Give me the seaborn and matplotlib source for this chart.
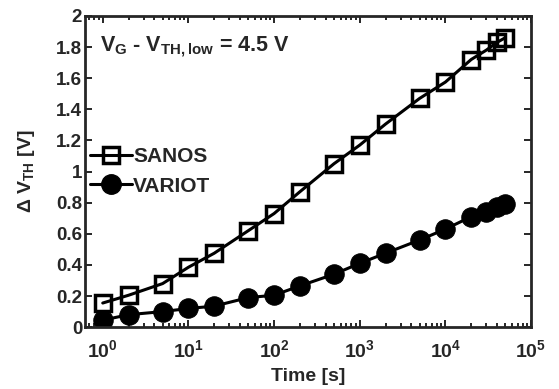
import numpy as np
import pandas as pd
import matplotlib
matplotlib.use("Agg")
import matplotlib.pyplot as plt
import seaborn as sns
from matplotlib.ticker import FixedLocator, FixedFormatter, LogLocator, NullFormatter
from matplotlib.lines import Line2D

time_s = [1, 2, 5, 10, 20, 50, 100, 200, 500, 1000, 2000, 5000, 10000, 20000, 30000, 40000, 50000]
sanos = [0.155, 0.205, 0.28, 0.385, 0.475, 0.62, 0.73, 0.87, 1.05, 1.17, 1.305, 1.47, 1.575, 1.72, 1.78, 1.83, 1.86]
variot = [0.045, 0.08, 0.10, 0.12, 0.135, 0.19, 0.205, 0.265, 0.34, 0.41, 0.475, 0.56, 0.63, 0.71, 0.74, 0.77, 0.79]
x_ticks = [1, 10, 100, 1000, 10000, 100000]
x_tick_labels = [r"$\mathbf{10^{%d}}$" % i for i in range(6)]
y_ticks = [0, 0.2, 0.4, 0.6, 0.8, 1.0, 1.2, 1.4, 1.6, 1.8, 2.0]
y_tick_labels = ["0", "0.2", "0.4", "0.6", "0.8", "1", "1.2", "1.4", "1.6", "1.8", "2"]

sns.set_style("ticks")
plt.rcParams["font.family"] = ["Liberation Sans", "DejaVu Sans"]
plt.rcParams["font.weight"] = "bold"
plt.rcParams["mathtext.fontset"] = "custom"
plt.rcParams["mathtext.rm"] = "Liberation Sans:bold"
plt.rcParams["mathtext.bf"] = "Liberation Sans:bold"
plt.rcParams["mathtext.it"] = "Liberation Sans:bold"

df = pd.DataFrame({"t": time_s, "SANOS": sanos, "VARIOT": variot})

fig = plt.figure(figsize=(5.59, 3.89), dpi=100)
ax = fig.add_axes([0.152, 0.159, 0.798, 0.8])

LW = 2.2
sns.lineplot(data=df, x="t", y="SANOS", ax=ax, color="black", linewidth=LW,
             marker="s", markersize=11, markerfacecolor="none", markeredgecolor="black",
             markeredgewidth=2.5)
sns.lineplot(data=df, x="t", y="VARIOT", ax=ax, color="black", linewidth=LW,
             marker="o", markersize=14, markerfacecolor="black", markeredgecolor="black")

ax.set_xscale("log")
ax.set_xlim(0.62, 1e5)
ax.set_ylim(0, 2)
ax.xaxis.set_major_locator(FixedLocator(x_ticks))
ax.xaxis.set_major_formatter(FixedFormatter(x_tick_labels))
ax.xaxis.set_minor_locator(LogLocator(base=10, subs=np.arange(2, 10)))
ax.xaxis.set_minor_formatter(NullFormatter())
ax.yaxis.set_major_locator(FixedLocator(y_ticks))
ax.yaxis.set_major_formatter(FixedFormatter(y_tick_labels))

ax.tick_params(which="both", direction="in", top=True, right=True, width=1.4)
ax.tick_params(axis="x", which="major", length=5, labelsize=14, pad=9)
ax.tick_params(axis="y", which="major", length=5, labelsize=13.5, pad=2)
ax.tick_params(which="minor", length=3)
for lab in ax.get_yticklabels():
    lab.set_fontweight("bold")
for sp in ax.spines.values():
    sp.set_linewidth(2.0)

ax.set_xlabel("Time [s]", fontsize=14, fontweight="bold", labelpad=5)
ax.set_ylabel(r"Δ V$_\mathbf{TH}$ [V]", fontsize=14, fontweight="bold", labelpad=14)

ax.text(0.034, 0.94, r"V$_\mathbf{G}$ - V$_\mathbf{TH,low}$ = 4.5 V", transform=ax.transAxes,
        fontsize=15.5, fontweight="bold", va="top", ha="left")

handles = [
    Line2D([], [], color="black", linewidth=LW, marker="s", markersize=11,
           markerfacecolor="none", markeredgewidth=2.5),
    Line2D([], [], color="black", linewidth=LW, marker="o", markersize=14,
           markerfacecolor="black"),
]
ax.legend(handles, ["SANOS", "VARIOT"], loc="center left", bbox_to_anchor=(-0.03, 0.5),
          frameon=False, handlelength=2.0, handletextpad=0.05, labelspacing=0.5,
          prop={"weight": "bold", "size": 15})

fig.savefig("out.png", dpi=100)
